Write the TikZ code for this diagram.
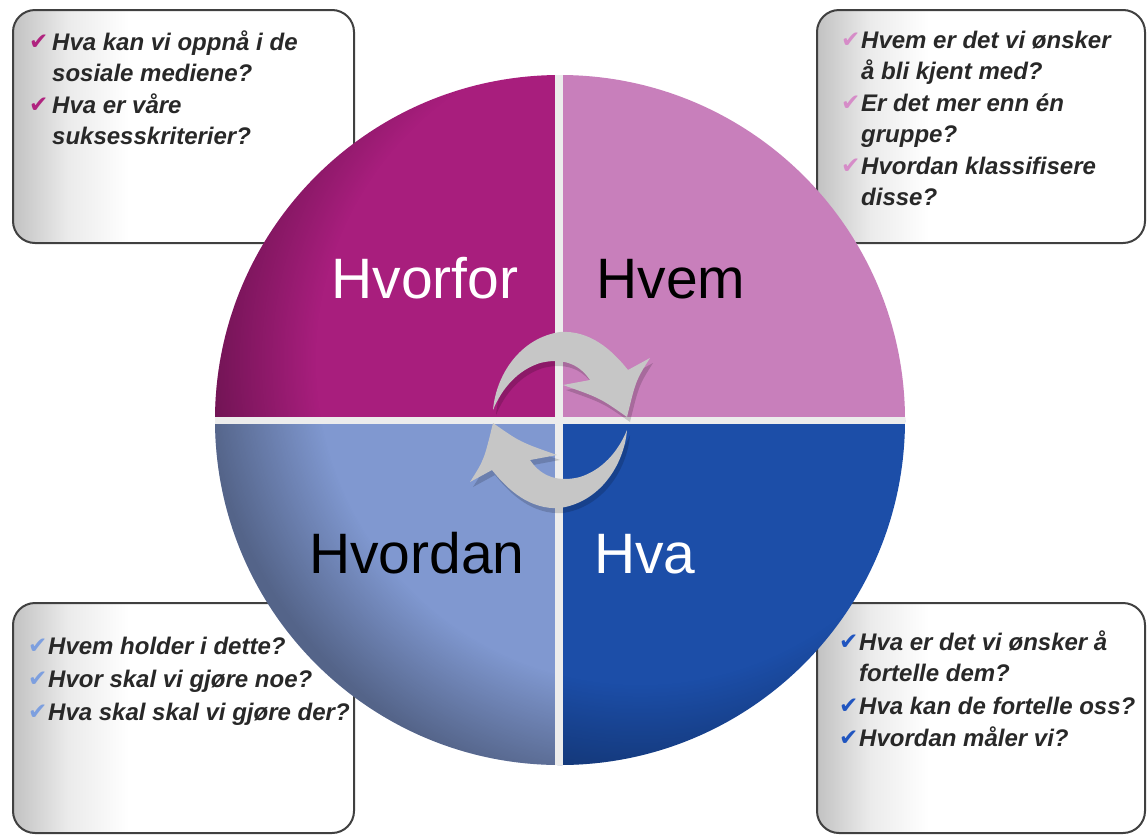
\documentclass[tikz,border=0pt]{standalone}
\usepackage{fontspec}
\setmainfont{Liberation Sans}
\newfontfamily\symfont{DejaVu Sans}
\usetikzlibrary{fadings}

\definecolor{cHvorfor}{RGB}{168,30,125}
\definecolor{cHvem}{RGB}{200,127,187}
\definecolor{cHvordan}{RGB}{128,152,208}
\definecolor{cHva}{RGB}{28,78,168}
\definecolor{ckA}{RGB}{176,35,127}
\definecolor{ckB}{RGB}{214,140,200}
\definecolor{ckC}{RGB}{125,159,223}
\definecolor{ckD}{RGB}{32,85,192}
\definecolor{arrowgray}{RGB}{198,198,198}
\definecolor{gapgray}{RGB}{236,236,236}
\definecolor{qtextc}{RGB}{40,40,40}

\pgfdeclarehorizontalshading{boxshade}{100bp}{color(0bp)=(black!24); color(25bp)=(black!24); color(33bp)=(black!8); color(42bp)=(white); color(100bp)=(white)}
\pgfdeclareradialshading{vignshade}{\pgfpointorigin}{color(0bp)=(pgftransparent!100); color(18bp)=(pgftransparent!100); color(24.2bp)=(pgftransparent!66); color(50bp)=(pgftransparent!66)}
\pgfdeclarefading{vign}{\pgfuseshading{vignshade}}

\newcommand\myarrowpath{(493,410) .. controls (496,375) and (520,338) .. (560,332)
  .. controls (590,330) and (612,350) .. (628,370) -- (650,358)
  .. controls (636,380) .. (627,417) .. controls (600,398) .. (563,385) -- (590,380)
  .. controls (578,362) and (560,358) .. (540,363)
  .. controls (518,370) and (502,388) .. (493,410) -- cycle}

\begin{document}
\begin{tikzpicture}[x=1pt,y=-1pt,
  qbox/.style={draw=black!75, line width=2pt, rounded corners=22pt, shading=boxshade},
  qtext/.style={anchor=mid west, inner sep=0pt, text=qtextc,
     font=\fontsize{24}{29}\selectfont\bfseries\itshape},
  ck/.style={anchor=mid west, inner sep=0pt, font=\symfont\fontsize{23}{24}\selectfont},
  biglabel/.style={anchor=base, inner sep=0pt, font=\fontsize{57}{60}\selectfont}]

\useasboundingbox (0,0) rectangle (1147,836);
\fill[white] (0,0) rectangle (1147,836);

% question boxes
\path[qbox] (13,10) rectangle (354,243);
\path[qbox] (817,10) rectangle (1145,243);
\path[qbox] (13,603) rectangle (354,833);
\path[qbox] (817,603) rectangle (1145,833);

% circle
\begin{scope}
  \clip (560,420) circle (345);
  \fill[cHvorfor] (200,60) rectangle (560,420);
  \fill[cHvem] (560,60) rectangle (920,420);
  \fill[cHvordan] (200,420) rectangle (560,780);
  \fill[cHva] (560,420) rectangle (920,780);
  \fill[black, path fading=vign] (640,360) circle (448);
  \draw[gapgray, line width=8pt] (559,60) -- (559,780);
  \draw[gapgray, line width=7pt] (200,420) -- (920,420);
\end{scope}

% cycle arrows
\fill[black, opacity=0.16] [shift={(3,5)}] \myarrowpath;
\fill[black, opacity=0.16] [shift={(3,5)}, rotate around={180:(560,420)}] \myarrowpath;
\fill[arrowgray] \myarrowpath;
\fill[arrowgray] [rotate around={180:(560,420)}] \myarrowpath;

% quadrant labels
\node[biglabel, text=white] (hvorfor) at (425,298) {Hvorfor};
\node[biglabel, text=black] (hvem) at (671,298) {Hvem};
\node[biglabel, text=black] (hvordan) at (417,573) {Hvordan};
\node[biglabel, text=white] (hva) at (645,573) {Hva};

% top-left questions
\node[ck, text=ckA] (ck1) at (29,47) {✔};
\node[qtext] (t1a) at (52,48) {Hva kan vi oppnå i de};
\node[qtext] (t1b) at (52,79) {sosiale mediene?};
\node[ck, text=ckA] (ck2) at (29,110) {✔};
\node[qtext] (t1c) at (52,111) {Hva er våre};
\node[qtext] (t1d) at (52,142) {suksesskriterier?};

% top-right questions
\node[ck, text=ckB] (ck3) at (841,45) {✔};
\node[qtext] (t2a) at (861,46) {Hvem er det vi ønsker};
\node[qtext] (t2b) at (861,77) {å bli kjent med?};
\node[ck, text=ckB] (ck4) at (841,108) {✔};
\node[qtext] (t2c) at (861,109) {Er det mer enn én};
\node[qtext] (t2d) at (861,140) {gruppe?};
\node[ck, text=ckB] (ck5) at (841,171) {✔};
\node[qtext] (t2e) at (861,172) {Hvordan klassifisere};
\node[qtext] (t2f) at (861,203) {disse?};

% bottom-left questions
\node[ck, text=ckC] (ck6) at (28,651) {✔};
\node[qtext] (t3a) at (48,652) {Hvem holder i dette?};
\node[ck, text=ckC] (ck7) at (28,684) {✔};
\node[qtext] (t3b) at (48,685) {Hvor skal vi gjøre noe?};
\node[ck, text=ckC] (ck8) at (28,717) {✔};
\node[qtext] (t3c) at (48,718) {Hva skal skal vi gjøre der?};

% bottom-right questions
\node[ck, text=ckD] (ck9) at (839,647) {✔};
\node[qtext] (t4a) at (859,648) {Hva er det vi ønsker å};
\node[qtext] (t4b) at (859,679) {fortelle dem?};
\node[ck, text=ckD] (ck10) at (839,711) {✔};
\node[qtext] (t4c) at (859,712) {Hva kan de fortelle oss?};
\node[ck, text=ckD] (ck11) at (839,743) {✔};
\node[qtext] (t4d) at (859,744) {Hvordan måler vi?};
\end{tikzpicture}
\end{document}
